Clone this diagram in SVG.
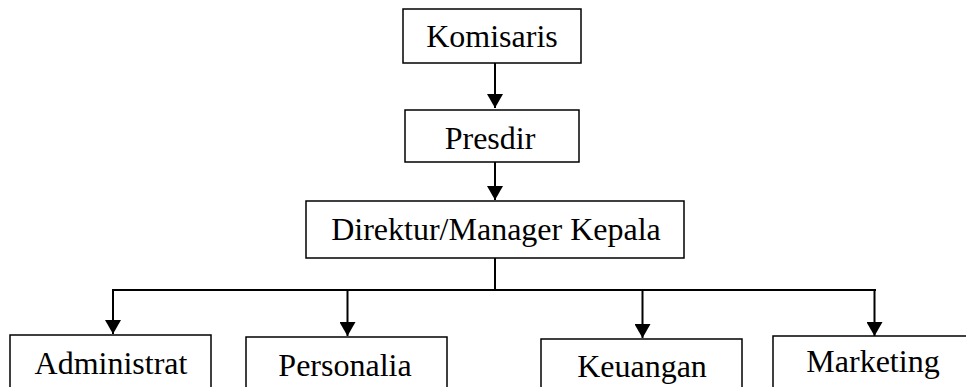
<svg xmlns="http://www.w3.org/2000/svg" width="966" height="387" viewBox="0 0 966 387">
<style>
.box{fill:#fff;stroke:#000;stroke-width:1.5}
.t{font-family:"Liberation Serif","Times New Roman",serif;font-size:32px;fill:#000;text-anchor:middle}
.c{fill:none;stroke:#000;stroke-width:2}
</style>
<defs>
<marker id="arr" markerWidth="15" markerHeight="16" refX="14" refY="8" orient="auto" markerUnits="userSpaceOnUse" viewBox="0 0 14 16">
<path d="M0,0 L14,8 L0,16 Z" fill="#000"/>
</marker>
</defs>
<g id="connectors">
<line class="c" x1="495" y1="63" x2="495" y2="108" marker-end="url(#arr)"/>
<line class="c" x1="495" y1="162" x2="495" y2="200" marker-end="url(#arr)"/>
<line class="c" x1="495" y1="258" x2="495" y2="290"/>
<line class="c" x1="113" y1="290" x2="876" y2="290"/>
<line class="c" x1="113" y1="289" x2="113" y2="334" marker-end="url(#arr)"/>
<line class="c" x1="347.5" y1="290" x2="347.5" y2="336" marker-end="url(#arr)"/>
<line class="c" x1="642.5" y1="290" x2="642.5" y2="338" marker-end="url(#arr)"/>
<line class="c" x1="874.5" y1="289" x2="874.5" y2="336" marker-end="url(#arr)"/>
</g>
<g id="komisaris">
<rect class="box" x="403" y="9" width="178" height="54"/>
<text class="t" x="492" y="47">Komisaris</text>
</g>
<g id="presdir">
<rect class="box" x="405" y="110" width="174" height="52"/>
<text class="t" x="490" y="149">Presdir</text>
</g>
<g id="direktur">
<rect class="box" x="306" y="201" width="378" height="57"/>
<text class="t" x="496" y="240">Direktur/Manager Kepala</text>
</g>
<g id="administrat">
<rect class="box" x="10" y="335" width="201" height="60"/>
<text class="t" x="111" y="374">Administrat</text>
</g>
<g id="personalia">
<rect class="box" x="246" y="337" width="201" height="60"/>
<text class="t" x="345" y="376">Personalia</text>
</g>
<g id="keuangan">
<rect class="box" x="541" y="339" width="201" height="60"/>
<text class="t" x="642" y="377">Keuangan</text>
</g>
<g id="marketing">
<rect class="box" x="773" y="336" width="201" height="60"/>
<text class="t" x="873" y="372">Marketing</text>
</g>
</svg>
